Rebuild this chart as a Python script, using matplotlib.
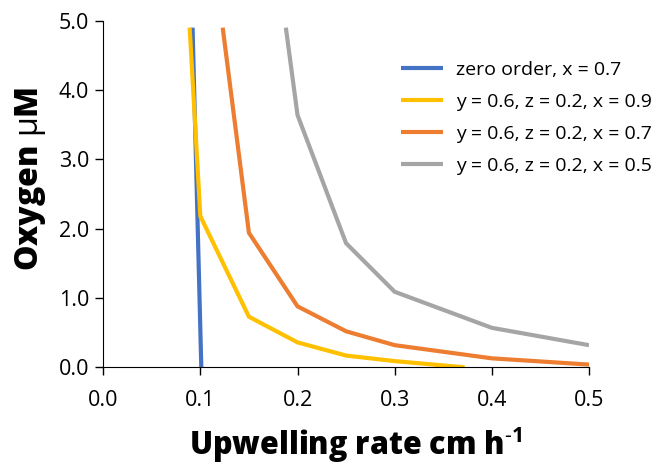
import matplotlib
matplotlib.use("Agg")
import matplotlib.pyplot as plt

# data
zero_x = [0.092, 0.101]
zero_y = [4.9, 0.0]

x09_x = [0.089, 0.10, 0.15, 0.20, 0.25, 0.30, 0.372]
x09_y = [4.9, 2.18, 0.73, 0.36, 0.17, 0.09, 0.0]

x07_x = [0.123, 0.15, 0.20, 0.25, 0.30, 0.40, 0.50]
x07_y = [4.9, 1.94, 0.88, 0.52, 0.32, 0.13, 0.04]

x05_x = [0.188, 0.20, 0.25, 0.30, 0.40, 0.50]
x05_y = [4.9, 3.64, 1.79, 1.09, 0.57, 0.32]

labels = ["zero order, x = 0.7",
          "y = 0.6, z = 0.2, x = 0.9",
          "y = 0.6, z = 0.2, x = 0.7",
          "y = 0.6, z = 0.2, x = 0.5"]
colors = ["#4472C4", "#FFC000", "#ED7D31", "#A5A5A5"]

plt.rcParams['font.family'] = ['Open Sans', 'DejaVu Sans']
plt.rcParams['mathtext.fontset'] = 'custom'
plt.rcParams['mathtext.bf'] = 'Open Sans:bold'
plt.rcParams['mathtext.rm'] = 'Open Sans'

fig = plt.figure(figsize=(6.53, 4.65), dpi=100)
ax = fig.add_axes([0.158, 0.21, 0.744, 0.7455])

series = [(zero_x, zero_y), (x09_x, x09_y), (x07_x, x07_y), (x05_x, x05_y)]
for (xs, ys), lab, c in zip(series, labels, colors):
    ax.plot(xs, ys, color=c, lw=3, label=lab, solid_joinstyle="miter",
            solid_capstyle="butt")

ax.set_xlim(0, 0.5)
ax.set_ylim(0, 5.0)
ax.set_xticks([0.0, 0.1, 0.2, 0.3, 0.4, 0.5])
ax.set_yticks([0.0, 1.0, 2.0, 3.0, 4.0, 5.0])
ax.xaxis.set_major_formatter(matplotlib.ticker.FormatStrFormatter("%.1f"))
ax.yaxis.set_major_formatter(matplotlib.ticker.FormatStrFormatter("%.1f"))
ax.tick_params(direction="out", length=6, width=1, labelsize=15.5, pad=4)
ax.tick_params(axis="x", pad=10)
ax.spines["top"].set_visible(False)
ax.spines["right"].set_visible(False)

ax.set_xlabel("Upwelling rate cm h$^{\\mathbf{\\text{-}1}}$", fontsize=22,
              fontweight="heavy")
ax.xaxis.set_label_coords(0.52, -0.168)
ax.set_ylabel("Oxygen $\\mathrm{\u03bc}$M", fontsize=23, fontweight="heavy")
ax.yaxis.set_label_coords(-0.114, 0.543)

leg = ax.legend(loc="upper left", frameon=False, fontsize=14,
                bbox_to_anchor=(0.577, 0.935), handlelength=2.15,
                labelspacing=0.72, handletextpad=0.67)

fig.savefig("out.png", dpi=100)
